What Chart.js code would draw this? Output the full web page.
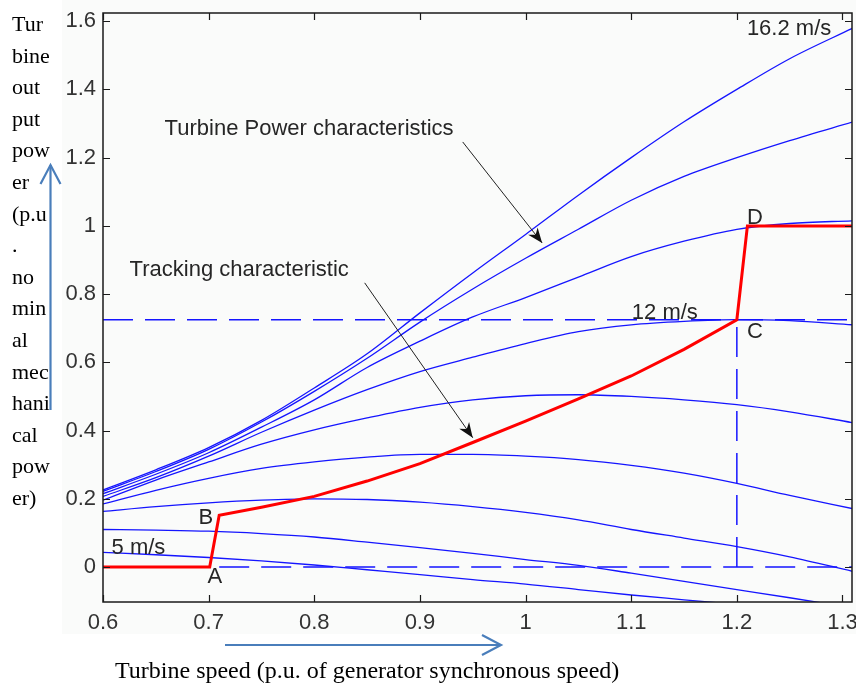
<!DOCTYPE html>
<html><head><meta charset="utf-8">
<script src="https://cdn.jsdelivr.net/npm/chart.js@4"></script>
<style>html,body{margin:0;padding:0;background:#fff;}#wrap{width:856px;height:683px;}</style>
</head><body><div id="wrap"><canvas id="c" width="856" height="683"></canvas></div>
<script>
// ---- data ----
const speeds = [0.6, 0.65, 0.7, 0.75, 0.8, 0.85, 0.9, 0.95, 1.0, 1.05, 1.1, 1.15, 1.2, 1.25, 1.31];
const curve16_2 = [0.226, 0.285, 0.35, 0.43, 0.525, 0.625, 0.745, 0.862, 0.975, 1.09, 1.2, 1.305, 1.40, 1.49, 1.58];
const curveB = [0.222, 0.28, 0.345, 0.425, 0.515, 0.612, 0.718, 0.815, 0.905, 0.99, 1.075, 1.145, 1.20, 1.25, 1.305];
const curveC = [0.215, 0.272, 0.335, 0.41, 0.49, 0.585, 0.662, 0.733, 0.79, 0.85, 0.91, 0.955, 0.99, 1.007, 1.015];
const curve12 = [0.207, 0.262, 0.325, 0.395, 0.46, 0.52, 0.573, 0.615, 0.655, 0.69, 0.71, 0.72, 0.725, 0.722, 0.71];
const curveE = [0.196, 0.255, 0.308, 0.36, 0.402, 0.437, 0.468, 0.49, 0.502, 0.505, 0.50, 0.49, 0.476, 0.455, 0.423];
const curveF = [0.185, 0.225, 0.26, 0.289, 0.308, 0.322, 0.33, 0.33, 0.325, 0.315, 0.298, 0.275, 0.245, 0.21, 0.171];
const curveG = [0.163, 0.177, 0.188, 0.196, 0.2, 0.198, 0.19, 0.177, 0.16, 0.138, 0.11, 0.085, 0.06, 0.03, -0.013];
const curveH = [0.11, 0.108, 0.105, 0.098, 0.088, 0.073, 0.057, 0.04, 0.022, 0.005, -0.018, -0.042, -0.066, -0.09, -0.12];
const curve5 = [0.043, 0.036, 0.028, 0.018, 0.006, -0.008, -0.022, -0.037, -0.05, -0.066, -0.082, -0.096, -0.11, -0.125, -0.143];
const trackSpeeds = [0.6, 0.701, 0.71, 0.75, 0.8, 0.85, 0.9, 0.95, 1.0, 1.05, 1.1, 1.15, 1.2, 1.21, 1.31];
const trackPower = [0, 0, 0.152, 0.175, 0.207, 0.252, 0.303, 0.365, 0.428, 0.493, 0.56, 0.638, 0.725, 1.0, 1.0];
const mppPower = 0.725;   // level of point C
const mppSpeed = 1.2;     // speed of point C
const xTicks = [0.6, 0.7, 0.8, 0.9, 1.0, 1.1, 1.2, 1.3];
const yTicks = [0, 0.2, 0.4, 0.6, 0.8, 1.0, 1.2, 1.4, 1.6];
const yTitleLines = ['Tur','bine','out','put','pow','er','(p.u','.','no','min','al','mec','hani','cal','pow','er)'];
const xTitle = 'Turbine speed (p.u. of generator synchronous speed)';
const notes = [
  {t:'Turbine Power characteristics', x:0.6583, y:1.2665},
  {t:'Tracking characteristic', x:0.6252, y:0.8536},
  {t:'16.2 m/s', x:1.2095, y:1.559},
  {t:'12 m/s', x:1.1006, y:0.7277},
  {t:'5 m/s', x:0.6081, y:0.0395},
  {t:'A', x:0.699, y:-0.048},
  {t:'B', x:0.6905, y:0.127},
  {t:'C', x:1.2095, y:0.672},
  {t:'D', x:1.2095, y:1.006}
];
const noteArrows = [
  {x1:0.9405, y1:1.246, x2:1.0157, y2:0.950},
  {x1:0.8477, y1:0.833, x2:0.950, y2:0.379}
];

// ---- build datasets ----
const pts = (xs, ys) => xs.map((x, i) => ({x, y: ys[i]}));
const blue = '#1515ff';
const curves = [curve16_2, curveB, curveC, curve12, curveE, curveF, curveG, curveH, curve5];
const datasets = [];
datasets.push({data: pts(trackSpeeds, trackPower), borderColor:'#ff0000', borderWidth:3, pointRadius:0, tension:0, order:0, clip:0});
curves.forEach(c => datasets.push({data: pts(speeds, c), borderColor: blue, borderWidth:1.3, pointRadius:0, cubicInterpolationMode:'monotone', order:1, clip:0}));
const dash = {borderColor: blue, borderWidth:1.5, borderDash:[30,12], pointRadius:0, tension:0, order:2, clip:0};
datasets.push(Object.assign({data:[{x:0.6, y:mppPower},{x:1.31, y:mppPower}]}, dash));
datasets.push(Object.assign({data:[{x:0.71, y:0},{x:1.31, y:0}]}, dash));
datasets.push(Object.assign({data:[{x:mppSpeed, y:0},{x:mppSpeed, y:mppPower}]}, dash));

const SANS = '"Liberation Sans", Arial, sans-serif';
const SERIF = '"Liberation Serif", "Times New Roman", serif';
const fmt = v => String(+(+v).toFixed(2));

function filledArrow(ctx, x1, y1, x2, y2, len, w) {
  ctx.beginPath(); ctx.moveTo(x1, y1); ctx.lineTo(x2, y2); ctx.stroke();
  const a = Math.atan2(y2 - y1, x2 - x1), c = Math.cos(a), s = Math.sin(a);
  ctx.beginPath();
  ctx.moveTo(x2, y2);
  ctx.lineTo(x2 - len*c + w*s, y2 - len*s - w*c);
  ctx.lineTo(x2 - len*0.7*c, y2 - len*0.7*s);
  ctx.lineTo(x2 - len*c - w*s, y2 - len*s + w*c);
  ctx.closePath(); ctx.fill();
}
function openArrow(ctx, x1, y1, x2, y2, len, w) {
  ctx.beginPath(); ctx.moveTo(x1, y1); ctx.lineTo(x2, y2); ctx.stroke();
  const a = Math.atan2(y2 - y1, x2 - x1), c = Math.cos(a), s = Math.sin(a);
  ctx.beginPath();
  ctx.moveTo(x2 - len*c + w*s, y2 - len*s - w*c);
  ctx.lineTo(x2, y2);
  ctx.lineTo(x2 - len*c - w*s, y2 - len*s + w*c);
  ctx.stroke();
}

const deco = {
  id: 'deco',
  beforeDraw(chart) {
    const ctx = chart.ctx;
    ctx.save();
    ctx.fillStyle = '#ffffff'; ctx.fillRect(0, 0, chart.width, chart.height);
    ctx.fillStyle = '#fafbfa'; ctx.fillRect(62, 0, chart.width - 62, 634);
    ctx.restore();
  },
  afterDatasetsDraw(chart) {
    const ctx = chart.ctx, xs = chart.scales.x, ys = chart.scales.y, a = chart.chartArea;
    ctx.save();
    ctx.strokeStyle = '#1a1a1a'; ctx.lineWidth = 1.5;
    ctx.strokeRect(a.left, a.top, a.right - a.left, a.bottom - a.top);
    ctx.lineWidth = 1.2;
    xTicks.forEach(v => {
      const p = Math.round(xs.getPixelForValue(v)) + 0.5;
      ctx.beginPath(); ctx.moveTo(p, a.bottom); ctx.lineTo(p, a.bottom - 7);
      ctx.moveTo(p, a.top); ctx.lineTo(p, a.top + 7); ctx.stroke();
    });
    yTicks.forEach(v => {
      const p = Math.round(ys.getPixelForValue(v)) + 0.5;
      ctx.beginPath(); ctx.moveTo(a.left, p); ctx.lineTo(a.left + 7, p);
      ctx.moveTo(a.right, p); ctx.lineTo(a.right - 7, p); ctx.stroke();
    });
    ctx.fillStyle = '#262626'; ctx.font = '22px ' + SANS; ctx.textBaseline = 'alphabetic'; ctx.textAlign = 'left';
    notes.forEach(n => ctx.fillText(n.t, xs.getPixelForValue(n.x), ys.getPixelForValue(n.y)));
    ctx.strokeStyle = '#222'; ctx.fillStyle = '#111'; ctx.lineWidth = 1;
    noteArrows.forEach(r => filledArrow(ctx, xs.getPixelForValue(r.x1), ys.getPixelForValue(r.y1),
      xs.getPixelForValue(r.x2), ys.getPixelForValue(r.y2), 15, 6));
    ctx.fillStyle = '#000'; ctx.font = '22px ' + SERIF;
    yTitleLines.forEach((t, i) => ctx.fillText(t, 12, 31 + i * 31.6));
    ctx.font = '24px ' + SERIF;
    ctx.fillText(xTitle, 115, 678);
    ctx.strokeStyle = '#4a7ebb'; ctx.lineWidth = 2.2;
    openArrow(ctx, 50.5, 410, 50.5, 165, 19, 10);
    openArrow(ctx, 225, 645, 501, 645, 19, 10);
    ctx.restore();
  }
};

new Chart(document.getElementById('c'), {
  type: 'line',
  data: { datasets },
  plugins: [deco],
  options: {
    responsive: false, animation: false, devicePixelRatio: 1,
    layout: { padding: { top: 13, right: 4, left: 0, bottom: 0 } },
    plugins: { legend: { display: false }, tooltip: { enabled: false } },
    scales: {
      x: {
        type: 'linear', min: 0.6, max: 1.309,
        afterBuildTicks: s => { s.ticks = xTicks.map(v => ({value: v})); },
        afterFit: s => { s.height = 81; s.paddingLeft = 0; s.paddingRight = 0; },
        grid: { display: false, drawTicks: false }, border: { display: false },
        ticks: { autoSkip: false, maxRotation: 0, padding: 8, color: '#333', font: { family: SANS, size: 22 }, callback: v => fmt(v) }
      },
      y: {
        type: 'linear', min: -0.1025, max: 1.624,
        afterBuildTicks: s => { s.ticks = yTicks.map(v => ({value: v})); },
        afterFit: s => { s.width = 103; s.paddingTop = 0; s.paddingBottom = 0; },
        grid: { display: false, drawTicks: false }, border: { display: false },
        ticks: { autoSkip: false, padding: 7, color: '#333', font: { family: SANS, size: 22 }, callback: v => fmt(v) }
      }
    }
  }
});
</script>
</body></html>
